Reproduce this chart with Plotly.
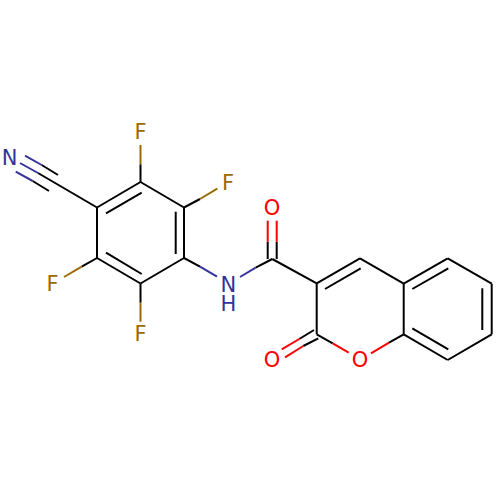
import plotly.graph_objects as go

# Polylines, as (x0, y0, x1, y1) per colour
black_bonds = [
    (140.5, 182, 184, 207.5), (184, 207.5, 184, 258), (184, 258, 140.5, 283.5),
    (140.5, 283.5, 97, 258), (97, 258, 97, 207.5), (97, 207.5, 140.5, 182),
    (106, 213.3, 141.7, 192.7), (175.7, 211.7, 175.7, 254), (106, 252.7, 141.7, 274),
    (97, 207.5, 38, 173), (58, 175, 41.7, 165), (49, 191, 32.7, 181),
    (140.5, 182, 140.5, 164.3), (184, 207.5, 200, 199), (97, 258, 81.7, 266.7),
    (140.5, 283.5, 140.5, 302.7), (184, 258, 200, 266.7), (272.3, 259, 255.7, 267.7),
    (267.7, 259, 267.7, 241.7), (276.7, 259, 276.7, 241.7),
    (272.3, 259, 316.7, 283.3), (316.7, 283.3, 360, 258.3), (360, 258.3, 403.7, 283.7),
    (403.7, 283.7, 403.7, 334.3), (403.7, 334.3, 389, 342.7), (316.7, 334.3, 332.7, 343.3),
    (316.7, 283.3, 316.7, 334.3), (325, 289, 360.7, 268.3),
    (403.7, 283.7, 447.7, 258.3), (447.7, 258.3, 491.7, 283.7), (491.7, 283.7, 491.7, 334.3),
    (491.7, 334.3, 447.7, 360), (447.7, 360, 403.7, 334.3),
    (412.3, 289, 448.3, 268.3), (482.3, 288.3, 482.3, 330), (412.3, 328.3, 448.3, 349.3),
    (314, 330, 299.3, 339), (318.3, 338.3, 303.3, 346),
]
blue_bonds = [
    (38, 173, 20, 163), (41.7, 165, 25, 155.7), (32.7, 181, 15.7, 171.7),
    (200, 266.7, 217, 276.7), (255.7, 267.7, 240, 277),
]
brown_bonds = [
    (140.5, 164.3, 140.5, 145), (200, 199, 217.3, 188.7), (81.7, 266.7, 64, 277),
    (140.5, 302.7, 140.5, 321.7),
]
red_bonds = [
    (267.7, 241.7, 267.7, 220.7), (276.7, 241.7, 276.7, 220.7),
    (299.3, 339, 281.7, 349.3), (303.3, 346, 285, 357.3),
    (332.7, 343.3, 348.7, 352.7), (389, 342.7, 371, 353.3),
]

label_text = ["N", "F", "F", "F", "F", "N", "H", "O", "O", "O"]
label_x = [9.5, 140.5, 228, 52.5, 140.5, 228.3, 228.3, 272, 360, 272]
label_y = [159.5, 133.5, 184.5, 286, 336, 286.5, 305.5, 210, 362, 362]
label_colors = ["#33339a", "#9a6a00", "#9a6a00", "#9a6a00", "#9a6a00",
                "#33339a", "#33339a", "#ff0000", "#ff0000", "#ff0000"]

fig = go.Figure()
for segs, colour in [(black_bonds, "#000000"), (blue_bonds, "#33339a"),
                     (brown_bonds, "#9a6a00"), (red_bonds, "#ff0000")]:
    xs, ys = [], []
    for x0, y0, x1, y1 in segs:
        xs += [x0, x1, None]
        ys += [y0, y1, None]
    fig.add_trace(go.Scatter(x=xs, y=ys, mode="lines",
                             line=dict(color=colour, width=2), hoverinfo="skip"))

fig.add_trace(go.Scatter(x=label_x, y=label_y, mode="text", text=label_text,
                         textposition="middle center",
                         textfont=dict(family="DejaVu Sans", size=21, color=label_colors),
                         hoverinfo="skip"))

fig.update_layout(width=500, height=500, showlegend=False,
                  margin=dict(l=0, r=0, t=0, b=0),
                  paper_bgcolor="white", plot_bgcolor="white",
                  xaxis=dict(range=[0, 500], visible=False),
                  yaxis=dict(range=[500, 0], visible=False))
fig.write_html("out.html", config={"displayModeBar": False},
               post_script="document.body.style.margin='0';document.body.style.overflow='hidden';")
